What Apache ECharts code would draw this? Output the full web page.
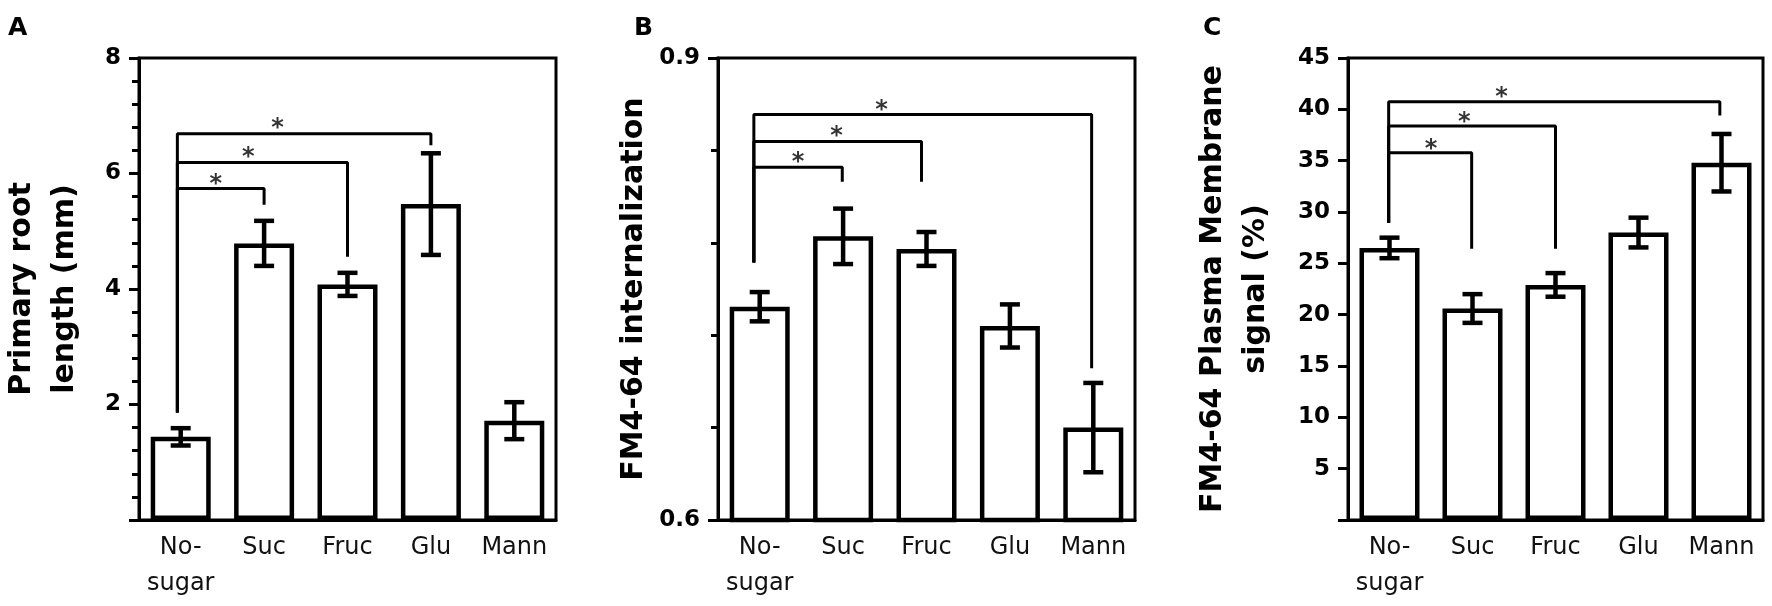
<!DOCTYPE html>
<html>
<head>
<meta charset="utf-8">
<script src="https://cdn.jsdelivr.net/npm/echarts@6/dist/echarts.min.js"></script>
<style>
  html, body { margin: 0; padding: 0; background: #fff; }
  #chart { width: 1772px; height: 606px; }
</style>
</head>
<body>
<div id="chart"></div>
<script>
// categories shared by the three panels
var categories = ['No-\nsugar', 'Suc', 'Fruc', 'Glu', 'Mann'];

// A: primary root length (mm)
var rootLength = [1.44, 4.79, 4.08, 5.47, 1.72];
var rootLengthErr = [0.15, 0.39, 0.2, 0.88, 0.32];
// B: FM4-64 internalization
var fmInternal = [0.7385, 0.7842, 0.776, 0.726, 0.66];
var fmInternalErr = [0.0095, 0.018, 0.011, 0.014, 0.029];
// C: FM4-64 plasma membrane signal (%)
var pmSignal = [26.5, 20.6, 22.9, 28.0, 34.8];
var pmSignalErr = [1.0, 1.4, 1.15, 1.45, 2.8];

// significance brackets: shared left leg [x, footY], then [toX, barY, dropY]
var legA = [-0.04, 1.86];
var bracketsA = [[1, 5.74, 5.46], [2, 6.19, 4.56], [3, 6.69, 6.49]];
var starsA = [[0.42, 5.91], [0.81, 6.38], [1.16, 6.87]];

var legB = [-0.07, 0.7672];
var bracketsB = [[0.99, 0.829, 0.8196], [1.94, 0.8458, 0.8196], [3.98, 0.8633, 0.6986]];
var starsB = [[0.46, 0.8359], [0.92, 0.8526], [1.46, 0.8696]];

var legC = [-0.01, 28.93];
var bracketsC = [[0.99, 35.77, 26.42], [2.0, 38.38, 26.42], [3.98, 40.74, 39.39]];
var starsC = [[0.5, 36.63], [0.9, 39.32], [1.35, 41.68]];

// axis ticks
var yTicksA = {min: 0, max: 8, interval: 2, minor: 5};
var yTicksB = {min: 0.6, max: 0.9, interval: 0.3, minor: 5};
var yTicksC = {min: 0, max: 45, interval: 5, minor: 0};

var FONT = 'DejaVu Sans';

var grids = [
  {left: 138, right: 1216, top: 58, bottom: 86},
  {left: 718, right: 637, top: 58, bottom: 86},
  {left: 1348, right: 9, top: 58, bottom: 86}
];

var xAxes = [], yAxes = [], series = [];

function addPanel(i, values, errs, ticks, title, gap, leg, brackets, stars) {
  xAxes.push({
    type: 'category', gridIndex: i, data: categories,
    axisLine: {show: true, onZero: false, lineStyle: {color: '#000', width: 3}},
    axisTick: {show: false},
    axisLabel: {interval: 0, fontFamily: FONT, fontSize: 24, color: '#111', lineHeight: 36, margin: 10}
  });
  // hidden value axis for bracket / star positions between categories
  xAxes.push({type: 'value', gridIndex: i, min: -0.5, max: 4.5, show: false});

  yAxes.push({
    type: 'value', gridIndex: i, min: ticks.min, max: ticks.max, interval: ticks.interval,
    axisLine: {show: true, onZero: false, lineStyle: {color: '#000', width: 3}},
    axisTick: {show: true, length: 10, lineStyle: {color: '#000', width: 3}},
    minorTick: {show: ticks.minor > 0, splitNumber: ticks.minor || 5, length: 7, lineStyle: {color: '#000', width: 3}},
    splitLine: {show: false},
    axisLabel: {
      fontFamily: FONT, fontWeight: 'bold', fontSize: 23, color: '#000', margin: 18,
      formatter: function (v) { return v === 0 ? '' : String(+v.toFixed(2)); }
    },
    name: title, nameLocation: 'middle', nameRotate: 90, nameGap: gap,
    nameTextStyle: {fontFamily: FONT, fontWeight: 'bold', fontSize: 30, color: '#000', lineHeight: 43}
  });

  series.push({
    type: 'bar', xAxisIndex: i * 2, yAxisIndex: i, data: values, barWidth: 60,
    itemStyle: {color: '#fff', borderColor: '#000', borderWidth: 4.5},
    silent: true
  });

  series.push({
    type: 'custom', xAxisIndex: i * 2, yAxisIndex: i, z: 5,
    data: values.map(function (v, k) { return [k, v, errs[k]]; }),
    renderItem: function (params, api) {
      var k = api.value(0), v = api.value(1), e = api.value(2);
      var hi = api.coord([k, v + e]);
      var lo = api.coord([k, v - e]);
      var w = 10;
      var st = {stroke: '#000', lineWidth: 4.5};
      return {
        type: 'group',
        children: [
          {type: 'line', shape: {x1: hi[0], y1: hi[1], x2: lo[0], y2: lo[1]}, style: st},
          {type: 'line', shape: {x1: hi[0] - w, y1: hi[1], x2: hi[0] + w, y2: hi[1]}, style: st},
          {type: 'line', shape: {x1: lo[0] - w, y1: lo[1], x2: lo[0] + w, y2: lo[1]}, style: st}
        ]
      };
    }
  });

  brackets.forEach(function (b) {
    series.push({
      type: 'line', xAxisIndex: i * 2 + 1, yAxisIndex: i, z: 4,
      data: [[leg[0], leg[1]], [leg[0], b[1]], [b[0], b[1]], [b[0], b[2]]],
      symbol: 'none', silent: true,
      lineStyle: {color: '#000', width: 3}
    });
  });

  series.push({
    type: 'scatter', xAxisIndex: i * 2 + 1, yAxisIndex: i, z: 4,
    data: stars, symbolSize: 0, silent: true,
    label: {show: true, position: 'inside', formatter: '*', fontFamily: FONT, fontWeight: 'bold',
      fontSize: 24, color: '#000', offset: [0, 6]}
  });
}

addPanel(0, rootLength, rootLengthErr, yTicksA, 'Primary root\nlength (mm)', 52, legA, bracketsA, starsA);
addPanel(1, fmInternal, fmInternalErr, yTicksB, 'FM4-64 internalization', 52, legB, bracketsB, starsB);
addPanel(2, pmSignal, pmSignalErr, yTicksC, 'FM4-64 Plasma Membrane\nsignal (%)', 70, legC, bracketsC, starsC);

var chart = echarts.init(document.getElementById('chart'));
chart.setOption({
  backgroundColor: '#fff',
  animation: false,
  grid: grids.map(function (g) {
    return Object.assign({show: true, borderColor: '#000', borderWidth: 3, backgroundColor: 'transparent'}, g);
  }),
  graphic: [
    {type: 'text', left: 8, top: 16, style: {text: 'A', fontFamily: FONT, fontWeight: 'bold', fontSize: 25, fill: '#000'}},
    {type: 'text', left: 634, top: 16, style: {text: 'B', fontFamily: FONT, fontWeight: 'bold', fontSize: 25, fill: '#000'}},
    {type: 'text', left: 1203, top: 16, style: {text: 'C', fontFamily: FONT, fontWeight: 'bold', fontSize: 25, fill: '#000'}}
  ],
  xAxis: xAxes,
  yAxis: yAxes,
  series: series
});
</script>
</body>
</html>
